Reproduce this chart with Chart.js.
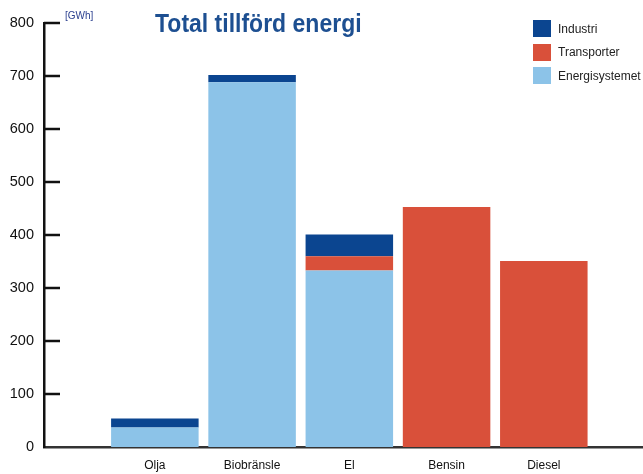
<!DOCTYPE html>
<html>
<head>
<meta charset="utf-8">
<script src="https://cdn.jsdelivr.net/npm/chart.js@4"></script>
<style>
    body { margin: 0; background: #fff; font-family: "Liberation Sans", Arial, sans-serif; }
    #wrap { position: relative; width: 643px; height: 474px; overflow: hidden; }
    #title { position: absolute; left: 155px; top: 13px; font-size: 23px; line-height: 1; font-weight: bold; color: #1d4f91; transform: scaleY(1.1); transform-origin: left bottom; }
    #unit { position: absolute; left: 65px; top: 10px; font-size: 10px; color: #2a3f8f; }
    #legend { position: absolute; left: 533px; top: 20px; font-size: 12px; color: #222; white-space: nowrap; }
    #legend .row { display: flex; align-items: center; height: 17px; margin-bottom: 6.5px; }
    #legend .sw { width: 18px; height: 17px; margin-right: 7px; flex: none; }
</style>
</head>
<body>
<div id="wrap">
    <canvas id="chart" width="643" height="474"></canvas>
    <div id="title">Total tillförd energi</div>
    <div id="unit">[GWh]</div>
    <div id="legend"></div>
</div>
<script>
const categories = ['Olja', 'Biobränsle', 'El', 'Bensin', 'Diesel'];
const energisystemet = [37, 688, 333, 0, 0];
const transporter = [0, 0, 27, 453, 351];
const industri = [17, 14, 41, 0, 0];
const yTicks = [0, 100, 200, 300, 400, 500, 600, 700, 800];

const series = [
    { label: 'Energisystemet', values: energisystemet, color: '#8cc3e8' },
    { label: 'Transporter', values: transporter, color: '#d9503a' },
    { label: 'Industri', values: industri, color: '#0b4590' }
];

// legend, top entry first
const legend = document.getElementById('legend');
series.slice().reverse().forEach(function (s) {
    const row = document.createElement('div');
    row.className = 'row';
    row.innerHTML = '<div class="sw" style="background:' + s.color + '"></div><span>' + s.label + '</span>';
    legend.appendChild(row);
});

const inwardTicks = {
    id: 'inwardTicks',
    afterDraw: function (chart) {
        const y = chart.scales.y;
        const left = chart.chartArea.left;
        const ctx = chart.ctx;
        ctx.save();
        ctx.strokeStyle = '#111';
        ctx.lineWidth = 2.5;
        y.ticks.forEach(function (t) {
            if (t.value === 0) return;
            const py = y.getPixelForValue(t.value);
            ctx.beginPath();
            ctx.moveTo(left, py);
            ctx.lineTo(left + 16, py);
            ctx.stroke();
        });
        ctx.restore();
    }
};

new Chart(document.getElementById('chart'), {
    type: 'bar',
    data: {
        datasets: series.map(function (s) {
            return {
                label: s.label,
                data: categories.map(function (c, i) { return { x: i + 1, y: s.values[i] }; }),
                backgroundColor: s.color,
                borderWidth: 0,
                barPercentage: 0.9,
                categoryPercentage: 1
            };
        })
    },
    options: {
        responsive: false,
        animation: false,
        layout: { padding: { top: 23, right: 0, bottom: 0, left: 0 } },
        plugins: { legend: { display: false }, tooltip: { enabled: false } },
        scales: {
            x: {
                type: 'linear',
                stacked: true,
                offset: false,
                min: -0.14,
                max: 6.02,
                afterBuildTicks: function (s) {
                    s.ticks = categories.map(function (c, i) { return { value: i + 1 }; });
                },
                afterFit: function (s) { s.height = 27; },
                ticks: {
                    callback: function (v) { return categories[v - 1] || ''; },
                    color: '#111',
                    font: { family: 'Liberation Sans', size: 12 },
                    padding: 11,
                    maxRotation: 0
                },
                grid: { display: false, drawTicks: false, offset: false },
                border: { display: true, color: '#333', width: 2.5 }
            },
            y: {
                stacked: true,
                min: 0,
                max: 800,
                afterBuildTicks: function (s) {
                    s.ticks = yTicks.map(function (v) { return { value: v }; });
                },
                afterFit: function (s) { s.width = 44; },
                ticks: {
                    color: '#111',
                    font: { family: 'Liberation Sans', size: 14.5 },
                    padding: 10
                },
                grid: { display: false, drawTicks: false },
                border: { display: true, color: '#111', width: 2.5 }
            }
        }
    },
    plugins: [inwardTicks]
});
</script>
</body>
</html>
